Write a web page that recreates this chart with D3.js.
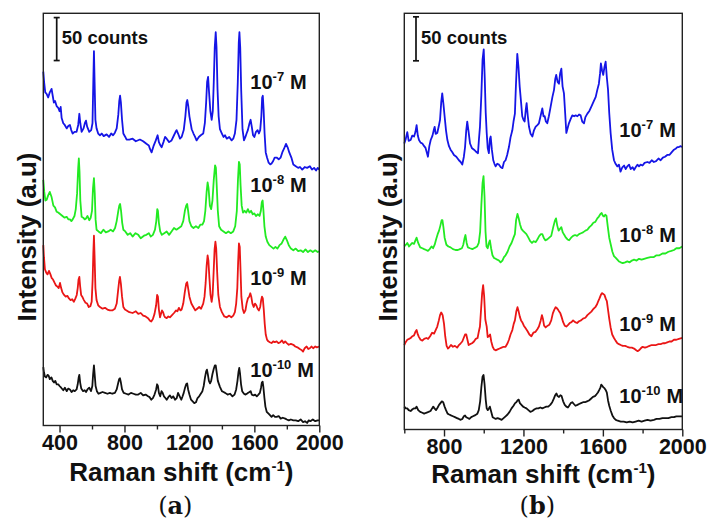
<!DOCTYPE html>
<html>
<head>
<meta charset="utf-8">
<script src="https://cdn.jsdelivr.net/npm/d3@7"></script>
<style>
  body { margin: 0; background: #fff; }
  svg text { font-family: "Liberation Sans", Arial, sans-serif; font-weight: bold; fill: #111; }
</style>
</head>
<body>
<div id="chart"></div>
<script>
// ---- data: Raman shift (cm-1), intensity (counts, stacked offsets as plotted) ----
const concLabels = ["-7", "-8", "-9", "-10"];
const lineColors = ["#1515e6", "#22ea22", "#ea1616", "#111111"];

const ticksA = [400, 800, 1200, 1600, 2000];
const minorA = [600, 1000, 1400, 1800];
const ticksB = [800, 1200, 1600, 2000];
const minorB = [600, 1000, 1400, 1800];

const specA7 = [[300,412],[305,400],[312,388],[321,386],[330,382],[340,388],[351,392],[358,384],[365,376],[372,378],[382,372],[392,370],[400,366],[407,371],[413,358],[423,352],[432,350],[444,346],[455,349],[464,350],[472,344],[481,340],[492,342],[505,342],[515,350],[522,363],[528,352],[536,342],[548,346],[556,352],[563,355],[570,348],[583,342],[595,344],[603,352],[608,400],[612,436],[616,400],[621,356],[628,346],[638,340],[649,338],[660,340],[672,337],[690,339],[705,336],[718,340],[730,338],[741,341],[752,346],[762,362],[768,378],[773,384],[778,376],[785,356],[793,340],[805,336],[813,333],[830,333],[850,334],[870,331],[895,333],[915,331],[935,328],[950,326],[957,322],[967,318],[980,326],[993,332],[1004,338],[1012,330],[1022,326],[1029,324],[1040,330],[1050,336],[1060,334],[1075,330],[1090,332],[1105,338],[1115,342],[1121,344],[1130,340],[1142,334],[1152,336],[1165,344],[1175,360],[1182,376],[1187,379],[1193,372],[1200,360],[1214,345],[1225,340],[1235,336],[1244,332],[1258,336],[1270,338],[1285,340],[1295,352],[1303,376],[1309,400],[1315,406],[1321,388],[1329,366],[1337,356],[1344,366],[1350,400],[1356,440],[1362,458],[1367,440],[1373,392],[1380,360],[1388,345],[1400,340],[1410,336],[1419,338],[1430,334],[1445,336],[1460,332],[1470,334],[1480,340],[1490,356],[1498,400],[1504,446],[1508,458],[1513,440],[1519,390],[1527,345],[1536,332],[1545,336],[1552,340],[1560,344],[1570,352],[1577,356],[1584,348],[1592,338],[1600,336],[1610,342],[1620,344],[1628,340],[1636,344],[1643,360],[1648,382],[1652,384],[1657,368],[1663,340],[1670,318],[1678,312],[1688,306],[1698,304],[1706,305],[1716,308],[1725,312],[1737,312],[1750,310],[1762,312],[1772,318],[1782,322],[1795,328],[1805,324],[1815,318],[1828,312],[1840,304],[1855,302],[1870,300],[1881,301],[1895,298],[1910,301],[1925,300],[1942,302],[1955,298],[1968,300],[1980,297],[1990,300],[2000,298]];

const specA8 = [[300,286],[306,272],[313,262],[321,263],[330,268],[340,272],[351,266],[362,256],[372,254],[382,249],[392,248],[405,246],[418,244],[430,242],[444,243],[455,240],[464,240],[473,238],[481,240],[492,244],[500,252],[508,270],[515,300],[519,311],[523,296],[528,262],[536,243],[546,242],[555,240],[563,241],[572,244],[583,239],[592,242],[600,250],[606,276],[612,288],[617,270],[622,240],[628,228],[640,226],[655,224],[670,228],[685,225],[700,226],[715,228],[730,226],[742,230],[752,238],[762,250],[768,256],[773,258],[779,250],[786,236],[793,228],[805,226],[820,222],[835,224],[850,220],[868,224],[885,222],[900,218],[920,221],[935,222],[950,224],[962,220],[975,222],[988,228],[996,238],[1002,252],[1006,250],[1012,236],[1020,226],[1030,222],[1045,224],[1060,226],[1075,222],[1090,226],[1105,230],[1120,228],[1135,230],[1150,232],[1162,238],[1172,250],[1180,256],[1186,258],[1192,250],[1200,238],[1212,232],[1225,230],[1240,232],[1255,230],[1268,234],[1280,234],[1290,238],[1298,250],[1306,272],[1312,283],[1318,276],[1326,256],[1334,252],[1342,262],[1350,286],[1358,303],[1363,300],[1368,280],[1375,250],[1383,232],[1395,228],[1410,226],[1425,224],[1440,226],[1455,224],[1470,226],[1482,232],[1492,250],[1499,286],[1505,307],[1510,304],[1515,280],[1522,256],[1530,248],[1540,250],[1550,248],[1560,252],[1570,248],[1580,250],[1590,246],[1600,247],[1610,244],[1622,246],[1632,244],[1640,250],[1646,260],[1651,262],[1656,250],[1662,232],[1670,220],[1680,214],[1692,210],[1705,208],[1718,206],[1730,208],[1742,206],[1755,210],[1768,212],[1778,216],[1790,220],[1800,216],[1812,210],[1825,206],[1840,204],[1855,206],[1870,203],[1885,204],[1900,202],[1915,205],[1930,202],[1945,204],[1960,202],[1975,204],[1990,202],[2000,203]];

const specA9 = [[300,210],[304,196],[310,182],[318,178],[326,176],[335,180],[344,176],[351,172],[360,170],[370,166],[378,163],[386,162],[395,160],[403,166],[410,160],[418,155],[428,152],[438,150],[448,151],[458,148],[468,146],[478,147],[488,144],[498,148],[506,152],[512,160],[517,170],[522,173],[527,162],[533,152],[540,150],[550,146],[560,143],[570,142],[580,138],[590,139],[598,144],[604,170],[608,200],[612,221],[616,196],[621,160],[628,146],[638,140],[649,138],[665,136],[680,137],[695,135],[710,134],[725,134],[741,136],[752,142],[760,156],[767,168],[772,173],[778,165],[785,150],[793,138],[803,135],[813,134],[830,132],[850,131],[870,133],[885,130],[900,131],[915,128],[930,127],[945,125],[957,122],[965,121],[975,124],[985,130],[995,140],[1001,152],[1006,150],[1012,135],[1019,126],[1025,130],[1031,134],[1038,132],[1044,128],[1050,126],[1060,125],[1070,127],[1080,126],[1090,128],[1105,131],[1118,134],[1126,133],[1135,137],[1145,134],[1152,135],[1162,142],[1172,156],[1180,165],[1186,167],[1192,160],[1200,150],[1212,142],[1224,138],[1236,134],[1248,136],[1260,138],[1272,136],[1285,142],[1293,150],[1300,166],[1306,186],[1312,198],[1317,192],[1323,172],[1330,152],[1337,144],[1343,152],[1349,178],[1355,205],[1360,214],[1365,206],[1371,178],[1378,152],[1388,138],[1400,132],[1415,127],[1430,126],[1445,128],[1458,126],[1470,128],[1480,132],[1488,142],[1495,160],[1500,190],[1505,212],[1510,208],[1515,180],[1520,150],[1528,136],[1536,131],[1545,134],[1552,142],[1560,148],[1568,150],[1575,154],[1581,150],[1588,142],[1596,138],[1604,142],[1612,140],[1620,136],[1628,134],[1636,138],[1642,146],[1647,150],[1652,148],[1658,135],[1664,118],[1670,106],[1678,100],[1686,98],[1695,97],[1706,96],[1716,98],[1726,97],[1737,98],[1748,96],[1760,97],[1770,99],[1780,96],[1790,98],[1800,96],[1812,94],[1825,95],[1840,94],[1852,92],[1865,91],[1880,89],[1890,88],[1900,86],[1910,90],[1922,92],[1932,89],[1942,90],[1952,92],[1962,90],[1975,92],[1985,91],[2000,92]];

const specA10 = [[300,68],[304,62],[310,57],[318,56],[326,59],[333,58],[340,54],[350,56],[358,52],[366,50],[374,52],[382,48],[392,48],[400,46],[410,44],[423,41],[433,44],[444,40],[454,43],[464,42],[474,39],[484,41],[494,40],[505,42],[512,48],[518,56],[522,59],[527,50],[534,43],[545,40],[555,41],[563,39],[572,42],[583,44],[594,40],[602,46],[607,60],[612,70],[617,58],[622,46],[630,40],[640,37],[652,38],[665,39],[680,38],[695,37],[710,38],[725,37],[741,38],[752,42],[762,50],[767,54],[772,55],[778,50],[785,42],[795,38],[810,37],[825,36],[840,38],[855,37],[870,36],[885,36],[900,38],[915,35],[930,36],[945,34],[955,33],[965,30],[975,32],[985,36],[995,42],[1001,48],[1006,46],[1012,38],[1020,34],[1028,40],[1035,38],[1043,34],[1052,32],[1060,30],[1070,33],[1080,35],[1090,32],[1100,34],[1112,30],[1122,32],[1130,38],[1140,34],[1150,30],[1158,34],[1165,38],[1173,44],[1180,48],[1186,49],[1192,42],[1200,36],[1210,30],[1220,28],[1230,26],[1240,27],[1250,32],[1260,34],[1270,37],[1280,40],[1288,46],[1296,56],[1303,63],[1308,65],[1313,60],[1320,52],[1327,49],[1334,52],[1342,60],[1350,66],[1357,70],[1362,70],[1368,62],[1375,52],[1388,45],[1400,40],[1410,39],[1420,38],[1435,36],[1450,37],[1465,34],[1478,36],[1488,42],[1496,52],[1502,62],[1507,67],[1512,60],[1518,48],[1525,40],[1536,37],[1546,36],[1554,37],[1562,38],[1570,39],[1577,40],[1584,36],[1595,35],[1605,36],[1615,34],[1625,36],[1634,38],[1641,44],[1646,50],[1651,51],[1656,44],[1662,32],[1668,22],[1676,16],[1686,14],[1696,12],[1706,10],[1716,12],[1727,10],[1737,10],[1750,11],[1762,8],[1775,9],[1790,8],[1800,7],[1812,6],[1825,7],[1840,6],[1855,6],[1870,5],[1885,7],[1900,4],[1912,5],[1925,3],[1935,6],[1945,5],[1960,7],[1975,5],[1990,6],[2000,6]];

const specB7 = [[600,325],[607,330],[615,338],[622,328],[632,329],[640,334],[649,333],[656,338],[662,346],[668,334],[674,329],[682,326],[691,325],[700,322],[707,320],[713,315],[719,310],[726,322],[733,329],[742,334],[748,340],[753,344],[758,336],[766,337],[773,344],[780,352],[786,372],[791,382],[797,370],[803,356],[810,340],[817,329],[825,322],[833,318],[842,315],[850,312],[862,310],[875,306],[884,304],[892,301],[900,310],[906,321],[912,340],[917,350],[924,338],[931,325],[940,320],[951,318],[960,316],[971,314],[976,330],[981,344],[988,380],[994,420],[1000,432],[1005,400],[1010,360],[1015,337],[1020,320],[1026,314],[1031,330],[1035,333],[1041,318],[1048,306],[1054,302],[1060,299],[1068,302],[1077,301],[1086,298],[1094,297],[1102,304],[1110,306],[1118,312],[1127,321],[1135,332],[1144,340],[1150,350],[1157,359],[1162,390],[1169,427],[1175,412],[1181,390],[1188,372],[1194,356],[1200,352],[1206,350],[1212,364],[1216,371],[1222,356],[1228,344],[1236,336],[1245,333],[1253,340],[1261,344],[1270,346],[1278,348],[1288,358],[1295,365],[1301,356],[1307,356],[1313,350],[1320,348],[1328,356],[1337,367],[1346,378],[1354,386],[1360,398],[1365,403],[1372,395],[1379,393],[1385,405],[1391,410],[1397,390],[1404,382],[1410,360],[1416,337],[1422,342],[1429,348],[1438,353],[1446,357],[1455,356],[1463,357],[1472,356],[1480,358],[1488,357],[1496,350],[1505,348],[1512,355],[1522,359],[1532,362],[1542,367],[1552,372],[1564,378],[1572,386],[1580,393],[1586,405],[1590,416],[1596,408],[1602,403],[1608,412],[1614,418],[1620,400],[1626,386],[1632,360],[1639,337],[1647,318],[1656,306],[1664,302],[1673,299],[1681,301],[1689,293],[1698,298],[1707,300],[1715,296],[1723,299],[1732,301],[1740,296],[1750,298],[1757,295],[1765,298],[1774,301],[1782,299],[1790,301],[1800,300],[1810,303],[1824,304],[1835,303],[1846,306],[1857,304],[1868,305],[1880,308],[1891,306],[1902,309],[1913,310],[1924,312],[1935,312],[1946,315],[1958,318],[1966,319],[1975,321],[1983,321],[1992,322],[2000,321]];

const specB8 = [[600,208],[608,210],[615,212],[624,208],[632,210],[640,212],[649,211],[656,215],[662,218],[670,212],[680,207],[691,206],[700,205],[710,204],[719,203],[728,205],[737,208],[745,206],[753,210],[760,216],[768,222],[775,226],[782,232],[788,238],[792,238],[797,230],[803,218],[812,210],[822,208],[833,207],[845,205],[858,204],[870,204],[880,205],[890,206],[897,210],[903,217],[908,221],[914,212],[920,207],[931,206],[943,205],[951,206],[960,207],[967,208],[975,212],[982,225],[988,255],[994,280],[999,288],[1004,265],[1009,225],[1014,208],[1020,206],[1026,212],[1031,215],[1037,206],[1044,198],[1052,195],[1060,194],[1068,193],[1077,192],[1085,190],[1094,192],[1102,196],[1110,198],[1120,202],[1130,208],[1140,212],[1150,218],[1157,222],[1163,238],[1170,245],[1176,240],[1183,233],[1190,228],[1197,226],[1206,224],[1215,222],[1225,218],[1234,214],[1243,212],[1252,214],[1262,213],[1270,216],[1280,220],[1288,222],[1295,222],[1302,218],[1310,215],[1320,216],[1330,218],[1340,220],[1350,230],[1358,237],[1364,240],[1370,232],[1377,226],[1384,228],[1391,230],[1398,224],[1406,221],[1414,218],[1422,216],[1430,215],[1440,218],[1450,220],[1460,221],[1470,220],[1480,222],[1490,223],[1500,224],[1512,226],[1522,227],[1532,230],[1542,232],[1552,235],[1562,236],[1572,240],[1580,242],[1588,245],[1594,246],[1600,243],[1606,242],[1612,244],[1618,243],[1625,230],[1632,218],[1640,210],[1648,202],[1656,197],[1665,195],[1673,193],[1681,191],[1690,190],[1700,189],[1712,190],[1723,191],[1735,190],[1746,192],[1757,193],[1770,192],[1782,194],[1795,193],[1808,194],[1824,195],[1840,196],[1857,196],[1870,198],[1885,198],[1900,200],[1915,200],[1930,202],[1945,203],[1958,204],[1970,206],[1985,206],[2000,208]];

const specB9 = [[600,96],[606,99],[615,102],[624,103],[632,104],[641,106],[649,107],[656,111],[662,113],[668,108],[674,105],[682,102],[691,101],[700,103],[711,104],[720,103],[730,106],[740,110],[750,109],[758,113],[766,117],[774,124],[780,130],[786,133],[793,130],[800,120],[806,106],[813,95],[820,92],[828,94],[835,96],[845,94],[855,95],[866,93],[875,96],[884,98],[892,100],[899,104],[906,108],[912,108],[918,102],[924,96],[931,97],[941,98],[951,100],[960,103],[969,104],[976,112],[981,117],[987,138],[992,155],[997,164],[1002,152],[1008,125],[1015,117],[1020,105],[1026,106],[1032,108],[1038,100],[1045,94],[1052,91],[1060,90],[1070,91],[1080,92],[1090,93],[1100,94],[1110,94],[1120,98],[1127,102],[1135,108],[1144,113],[1151,120],[1157,124],[1164,134],[1170,139],[1176,134],[1182,128],[1188,124],[1194,122],[1202,118],[1211,115],[1220,112],[1230,108],[1240,106],[1250,110],[1261,111],[1270,114],[1278,117],[1287,124],[1293,130],[1298,126],[1304,118],[1312,116],[1322,118],[1330,119],[1340,124],[1348,132],[1355,136],[1362,139],[1368,138],[1375,136],[1380,134],[1386,132],[1392,128],[1400,122],[1408,118],[1416,117],[1425,119],[1433,121],[1442,122],[1450,124],[1460,122],[1470,121],[1480,123],[1490,124],[1500,126],[1512,127],[1522,130],[1532,132],[1542,134],[1552,137],[1562,139],[1570,142],[1577,146],[1583,149],[1590,153],[1596,155],[1602,154],[1608,153],[1614,149],[1620,146],[1626,136],[1632,126],[1639,116],[1647,108],[1656,104],[1664,101],[1673,98],[1681,97],[1690,96],[1700,95],[1712,95],[1723,94],[1735,93],[1746,93],[1757,92],[1768,90],[1775,89],[1782,90],[1790,92],[1800,94],[1812,93],[1824,94],[1835,95],[1846,96],[1857,96],[1868,96],[1880,97],[1891,97],[1902,98],[1913,98],[1924,99],[1935,100],[1946,100],[1958,102],[1970,102],[1983,103],[2000,104]];

const specB10 = [[600,26],[607,24],[615,24],[622,22],[632,21],[641,23],[649,24],[656,24],[662,26],[670,22],[680,20],[691,19],[700,18],[710,19],[722,20],[732,21],[740,24],[746,26],[752,24],[760,22],[768,25],[775,28],[782,30],[789,32],[796,31],[803,26],[810,22],[818,18],[826,17],[835,16],[845,15],[855,14],[865,13],[875,12],[884,11],[892,12],[900,15],[906,16],[912,14],[920,13],[928,12],[937,14],[946,15],[955,16],[962,17],[968,18],[975,22],[982,32],[988,48],[994,60],[999,62],[1004,52],[1010,34],[1015,24],[1020,22],[1026,24],[1031,26],[1038,20],[1045,14],[1052,13],[1060,12],[1070,13],[1080,12],[1090,11],[1100,13],[1110,15],[1120,17],[1130,20],[1140,24],[1150,27],[1158,30],[1164,31],[1170,33],[1176,34],[1182,30],[1190,28],[1198,26],[1206,25],[1215,24],[1225,22],[1235,20],[1245,21],[1256,23],[1266,24],[1275,24],[1285,25],[1295,24],[1305,25],[1315,26],[1325,26],[1335,28],[1345,31],[1353,35],[1360,39],[1366,41],[1372,38],[1379,37],[1386,39],[1392,38],[1400,32],[1408,28],[1416,26],[1424,25],[1430,27],[1438,30],[1446,31],[1454,29],[1462,27],[1472,28],[1480,29],[1490,30],[1500,31],[1510,31],[1520,32],[1530,33],[1540,35],[1550,37],[1560,38],[1568,40],[1575,42],[1582,45],[1588,48],[1592,51],[1596,50],[1602,48],[1608,47],[1614,45],[1620,42],[1626,33],[1632,27],[1640,21],[1648,16],[1656,13],[1665,11],[1675,10],[1690,9],[1705,9],[1720,8],[1735,9],[1750,8],[1765,9],[1780,10],[1795,9],[1810,10],[1825,11],[1840,10],[1857,11],[1870,12],[1885,12],[1900,13],[1915,13],[1930,13],[1945,14],[1958,14],[1970,15],[1985,15],[2000,15]];

// ---- layout ----
const W = 708, H = 520;
const svg = d3.select("#chart").append("svg").attr("width", W).attr("height", H);

const panels = [
  { id: "a", left: 43.3, right: 319.3, top: 13.3, bottom: 425.5,
    xDomain: [300, 2000], yMax: 480, ticks: ticksA, minor: minorA,
    series: [specA7, specA8, specA9, specA10],
    labelX: 1575, labelY: [392, 272, 164, 56],
    barX: 13.4, barTop: 475, yTitleX: 36, xTitleY: 481 },
  { id: "b", left: 404.3, right: 682.3, top: 13.3, bottom: 429.5,
    xDomain: [600, 2000], yMax: 473, ticks: ticksB, minor: minorB,
    series: [specB7, specB8, specB9, specB10],
    labelX: 1683, labelY: [332, 213, 112, 30],
    barX: 11.7, barTop: 469, yTitleX: 397, xTitleY: 483 }
];

panels.forEach(p => {
  const x = d3.scaleLinear().domain(p.xDomain).range([p.left, p.right]);
  const y = d3.scaleLinear().domain([0, p.yMax]).range([p.bottom, p.top]);
  const g = svg.append("g");

  const line = d3.line().x(d => x(d[0])).y(d => y(d[1]));
  g.selectAll("path.spec")
    .data(p.series)
    .join("path")
    .attr("class", "spec")
    .attr("d", line)
    .attr("fill", "none")
    .attr("stroke", (d, i) => lineColors[i])
    .attr("stroke-width", 1.8)
    .attr("stroke-linejoin", "round");

  // frame
  g.append("rect")
    .attr("x", p.left).attr("y", p.top)
    .attr("width", p.right - p.left).attr("height", p.bottom - p.top)
    .attr("fill", "none").attr("stroke", "#222").attr("stroke-width", 1.4);

  // x axis, major + minor ticks
  const ax = g.append("g").attr("transform", `translate(0,${p.bottom})`)
    .call(d3.axisBottom(x).tickValues(p.ticks).tickSize(7).tickPadding(2).tickFormat(d3.format("d")));
  ax.select(".domain").remove();
  ax.selectAll(".tick line").attr("stroke", "#222").attr("stroke-width", 1.4);
  ax.selectAll(".tick text").style("font-size", "21.5px").attr("fill", "#111");

  const axm = g.append("g").attr("transform", `translate(0,${p.bottom})`)
    .call(d3.axisBottom(x).tickValues(p.minor).tickSize(4).tickFormat(""));
  axm.select(".domain").remove();
  axm.selectAll(".tick line").attr("stroke", "#222").attr("stroke-width", 1.4);

  // concentration labels
  concLabels.forEach((c, i) => {
    const t = g.append("text").attr("x", x(p.labelX)).attr("y", y(p.labelY[i]))
      .style("font-size", "20px");
    t.append("tspan").text("10");
    t.append("tspan").attr("dy", -8).style("font-size", "13px").text(c);
    t.append("tspan").attr("dy", 8).attr("dx", 6).text("M");
  });

  // 50 counts scale bar
  const bx = p.left + p.barX;
  const y0 = y(p.barTop), y1 = y(p.barTop - 50);
  g.append("line").attr("x1", bx).attr("x2", bx).attr("y1", y0).attr("y2", y1)
    .attr("stroke", "#111").attr("stroke-width", 1.7);
  [y0, y1].forEach(yy => g.append("line").attr("x1", bx - 3).attr("x2", bx + 3)
    .attr("y1", yy).attr("y2", yy).attr("stroke", "#111").attr("stroke-width", 1.7));
  g.append("text").attr("x", bx + 5).attr("y", 43.5).style("font-size", "18.5px").text("50 counts");

  // axis titles
  const cx = (p.left + p.right) / 2;
  const xt = g.append("text").attr("x", cx).attr("y", p.xTitleY)
    .attr("text-anchor", "middle").style("font-size", "26px");
  xt.append("tspan").text("Raman shift (cm");
  xt.append("tspan").attr("dy", -10).style("font-size", "15px").text("-1");
  xt.append("tspan").attr("dy", 10).text(")");

  g.append("text")
    .attr("transform", `translate(${p.yTitleX},${237}) rotate(-90)`)
    .attr("text-anchor", "middle").style("font-size", "26px")
    .text("Intensity (a.u)");

  const pt = g.append("text").attr("x", cx - 6).attr("y", 514).attr("text-anchor", "middle")
    .style("font-family", "'DejaVu Serif', 'Liberation Serif', serif")
    .style("font-weight", "normal").style("font-size", "24px");
  pt.append("tspan").text("(");
  pt.append("tspan").style("font-weight", "bold").text(p.id);
  pt.append("tspan").text(")");
});
</script>
</body>
</html>
